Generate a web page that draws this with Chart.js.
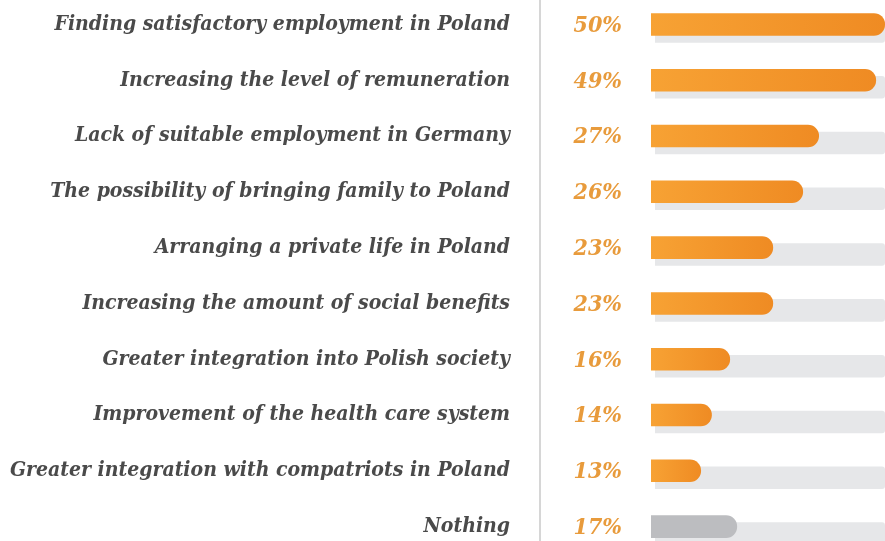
<!DOCTYPE html>
<html>
<head>
<meta charset="utf-8">
<script src="https://cdn.jsdelivr.net/npm/chart.js@4"></script>
<style>
    html, body { margin: 0; padding: 0; background: #ffffff; overflow: hidden; }
    #wrap { position: relative; width: 885px; height: 558px; }
</style>
</head>
<body>
<div id="wrap"><canvas id="reasonsChart"></canvas></div>
<script>
// Reasons (rows, top to bottom)
const categories = [
    'Finding satisfactory employment in Poland',
    'Increasing the level of remuneration',
    'Lack of suitable employment in Germany',
    'The possibility of bringing family to Poland',
    'Arranging a private life in Poland',
    'Increasing the amount of social benefits',
    'Greater integration into Polish society',
    'Improvement of the health care system',
    'Greater integration with compatriots in Poland',
    'Nothing'
];

// Share printed next to each bar
const percentLabels = ['50%', '49%', '27%', '26%', '23%', '23%', '16%', '14%', '13%', '17%'];

// Bar lengths as drawn in the infographic (the artwork is not to scale with the printed %),
// read off the picture on a 0-50 track
const barLengths = [50, 48.1, 35.9, 32.5, 26.1, 26.1, 16.9, 13.0, 10.7, 18.4];

// grey background track behind every bar
const trackRange = [0.85, 50];

const labelFont = { family: "'DejaVu Serif Condensed', 'DejaVu Serif', serif", size: 21, style: 'italic', weight: 'bold' };
const pctFont = { family: "'DejaVu Serif Condensed', 'DejaVu Serif', serif", size: 23, style: 'italic', weight: 'bold' };

// orange gradient for each bar, lighter on the left
function barFill(ctx) {
    if (ctx.dataIndex === categories.length - 1) return '#bcbdc0';
    const chart = ctx.chart;
    const xScale = chart.scales.x;
    if (!chart.chartArea || !xScale) return '#f39a2c';
    const x0 = xScale.getPixelForValue(0);
    const x1 = xScale.getPixelForValue(barLengths[ctx.dataIndex]);
    const g = chart.ctx.createLinearGradient(x0, 0, x1, 0);
    g.addColorStop(0, '#f7a234');
    g.addColorStop(1, '#ef8b23');
    return g;
}

new Chart(document.getElementById('reasonsChart'), {
    type: 'bar',
    data: {
        labels: categories,
        datasets: [{
            data: barLengths,
            backgroundColor: barFill,
            borderWidth: 0,
            borderRadius: 11,
            borderSkipped: 'start',
            categoryPercentage: 0.25,
            barPercentage: 3.23
        }, {
            data: categories.map(() => trackRange),
            backgroundColor: '#e6e7e9',
            borderWidth: 0,
            borderSkipped: false,
            borderRadius: { topLeft: 0, bottomLeft: 0, topRight: 3, bottomRight: 3 },
            categoryPercentage: 0.25,
            barPercentage: 3.23
        }]
    },
    options: {
        indexAxis: 'y',
        responsive: true,
        maintainAspectRatio: false,
        animation: false,
        layout: { padding: 0 },
        plugins: {
            legend: { display: false },
            tooltip: { enabled: false }
        },
        scales: {
            x: { display: false, min: 0, max: 50 },
            y: {
                position: 'left',
                weight: 10,
                offset: true,
                grid: { display: false, drawTicks: false },
                border: { display: true, color: '#d6d6d6', width: 2 },
                ticks: { padding: 30, color: '#4a4a4a', font: labelFont, labelOffset: -3.5 },
                afterFit: (s) => { s.width = 540; s.paddingTop = 0; s.paddingBottom = 0; }
            },
            yPct: {
                type: 'category',
                labels: percentLabels,
                position: 'left',
                weight: 0,
                offset: true,
                grid: { display: false, drawTicks: false },
                border: { display: false },
                ticks: { padding: 29, color: '#e89b3c', font: pctFont, labelOffset: -2 },
                afterFit: (s) => { s.width = 111; s.paddingTop = 0; s.paddingBottom = 0; }
            }
        }
    }
});
</script>
</body>
</html>
